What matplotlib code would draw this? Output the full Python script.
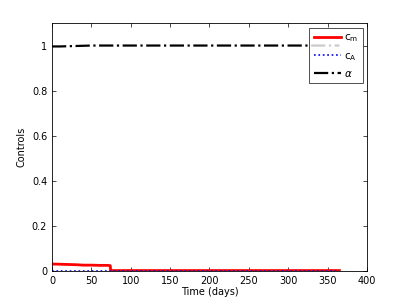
import matplotlib
matplotlib.use("Agg")
import matplotlib.pyplot as plt

t_cm = [0, 10, 20, 30, 40, 50, 60, 70, 74, 74.5, 100, 150, 200, 250, 300, 365]
cm = [0.031, 0.030, 0.029, 0.028, 0.026, 0.026, 0.025, 0.025, 0.024, 0.002, 0.002, 0.002, 0.002, 0.002, 0.002, 0.002]
t_ca = [0, 365]
ca = [0.001, 0.001]
t_al = [0, 10, 20, 30, 40, 50, 75, 100, 365]
al = [0.996, 0.996, 0.997, 0.998, 0.999, 1.0, 1.0, 1.0, 1.0]

xticks = [0, 50, 100, 150, 200, 250, 300, 350, 400]
yticks = [0, 0.2, 0.4, 0.6, 0.8, 1.0]
yticklabels = ["0", "0.2", "0.4", "0.6", "0.8", "1"]

plt.rcParams['font.family'] = ['DejaVu Sans']
fig = plt.figure(figsize=(4.06, 3.05), dpi=100)
ax = fig.add_axes([52/406, 34/305, 315/406, 248/305])
ax.plot(t_cm, cm, color='red', lw=2.0, label=r'$\mathregular{c_m}$')
ax.plot(t_ca, ca, color='blue', lw=1.2, ls=':', label=r'$\mathregular{c_A}$')
ax.plot(t_al, al, color='black', lw=1.6, ls='-.', label=r'$\alpha$')
ax.set_xlim(0, 400)
ax.set_ylim(0, 1.1)
ax.set_xticks(xticks)
ax.set_yticks(yticks)
ax.set_yticklabels(yticklabels)
ax.tick_params(direction='in', length=3, labelsize=7, width=0.5, top=True, right=True)
for s in ax.spines.values():
    s.set_linewidth(0.6)
ax.set_xlabel('Time (days)', fontsize=7, labelpad=1)
ax.set_ylabel('Controls', fontsize=7, labelpad=4)
leg = ax.legend(loc='upper right', fontsize=7.5, frameon=True, fancybox=False,
                edgecolor='black', borderaxespad=0.0, handlelength=2.6,
                handletextpad=0.3, labelspacing=0.6, borderpad=0.45,
                bbox_to_anchor=(363/406, 1 - 28/305),
                bbox_transform=fig.transFigure)
leg.get_frame().set_linewidth(0.6)
fig.savefig('out.png', dpi=100)
